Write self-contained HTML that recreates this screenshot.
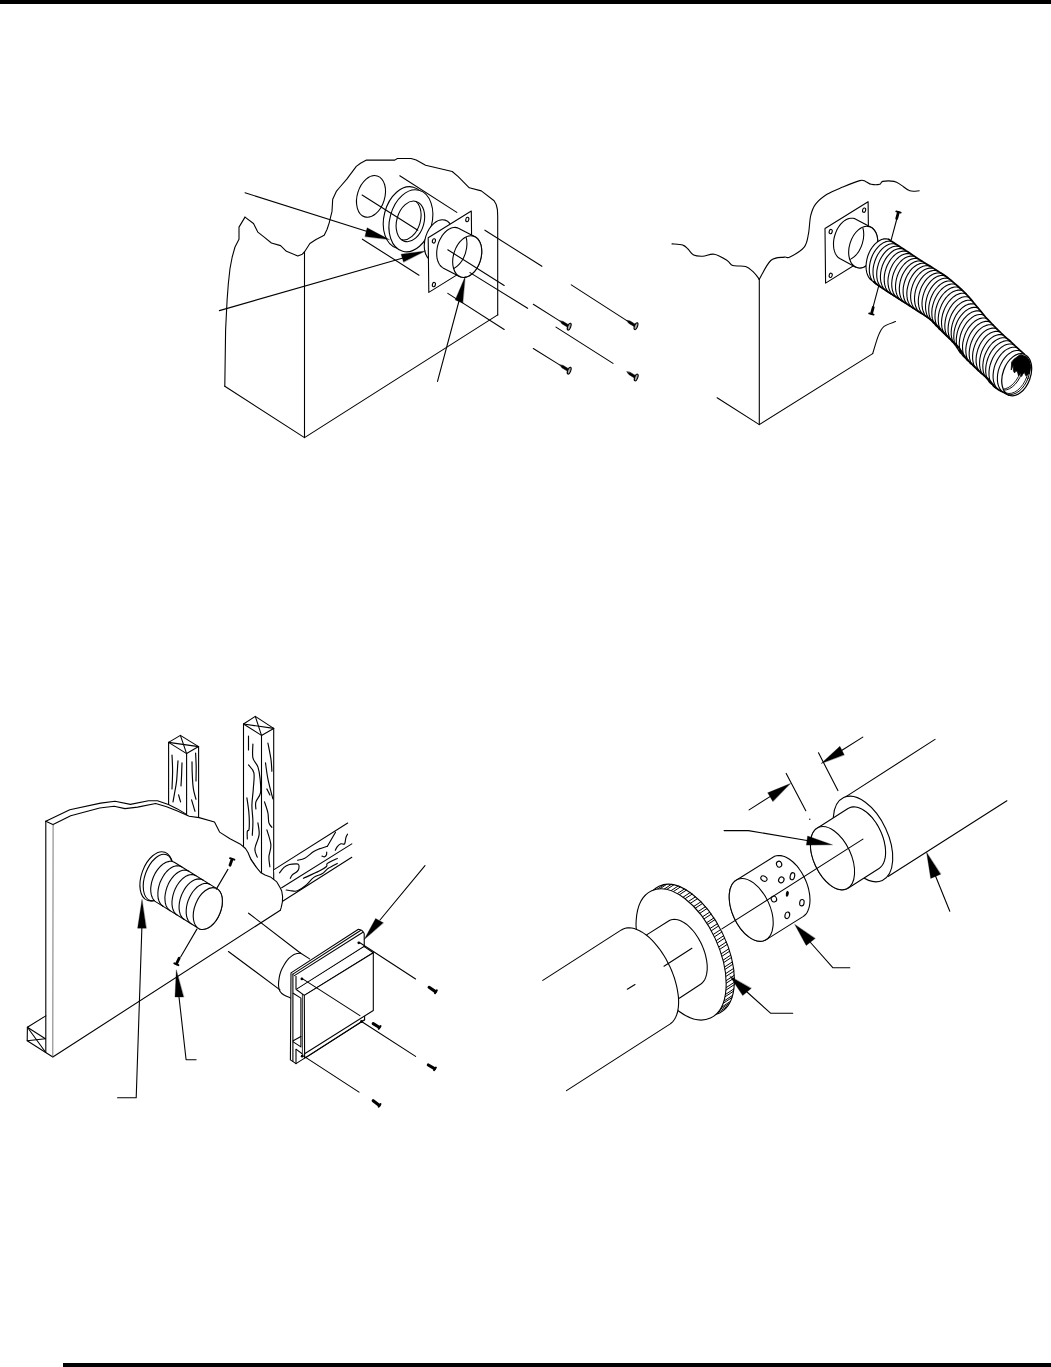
<!DOCTYPE html>
<html><head><meta charset="utf-8"><title>Page</title>
<style>
html,body{margin:0;padding:0;background:#fff;}
body{width:1051px;height:1367px;overflow:hidden;position:relative;font-family:"Liberation Sans",sans-serif;}
.top{position:absolute;left:0;top:0;width:1051px;height:4px;background:#000;}
.bot{position:absolute;left:63px;top:1363px;width:988px;height:4px;background:#000;}
svg{position:absolute;left:0;top:0;}
</style></head><body>
<div class="top"></div><div class="bot"></div>
<svg width="1051" height="1367" viewBox="0 0 1051 1367" fill="none" stroke="#000" stroke-width="1.1" stroke-linecap="round" stroke-linejoin="round">
<!-- diagram 1 -->
<g>
<path d="M224.8,386.2 L225.6,330 L227.1,300 L228.3,284 L230,268.5 L232.2,257 L235,247 L239,239.2 L239,227.1 L245,217.1" fill="none"/>
<path d="M245,217.1 L253.5,223.5 L257.8,232.1 L264.2,237.1 L271.4,243 L280.6,245.6 L286.4,251.3 L297.8,255.9 L302.3,254.2 L304.4,252" fill="none"/>
<path d="M304.4,252 L309.9,243.5 L316,239.5 L324.2,235.3 L327,229.5 L329.2,222.8 L332,211.4 L332.7,199.2 L336.3,191.4 L340,187 L346.8,179.2 L356.3,166.4 L360.5,163.2 L366.5,160.1 L394.8,160.1 L397.4,158.5 L411.1,158.5 L416.2,160.1 L425.6,165.2 L452.2,171.5 L458.2,176.7 L469.3,187.8 L481.3,190.9 L494.1,200.7 L496.2,204.5 L497.4,209.5 L497.7,216 L497.7,314.9" fill="none"/>
<path d="M224.8,386.2 L304.5,437.6 L497.7,314.9" fill="none"/>
<path d="M304.5,252 L304.5,437.6" fill="none"/>
<ellipse cx="371" cy="196.4" rx="13.7" ry="21.4" transform="rotate(17 371 196.4)" fill="none"/>
<path d="M399.8,175.8 L456.8,212.4" fill="none"/>
<path d="M362.4,239.2 L419,275.2" fill="none"/>
<ellipse cx="405.2" cy="217.7" rx="21.1" ry="31.6" transform="rotate(15 405.2 217.7)" fill="#fff"/>
<ellipse cx="410.9" cy="220.8" rx="21.1" ry="31.6" transform="rotate(15 410.9 220.8)" fill="#fff"/>
<clipPath id="c1"><ellipse cx="410.4" cy="221.4" rx="13.6" ry="20.8" transform="rotate(16 410.4 221.4)"/></clipPath>
<ellipse cx="410.4" cy="221.4" rx="13.6" ry="20.8" transform="rotate(16 410.4 221.4)" fill="#fff"/>
<g clip-path="url(#c1)"><ellipse cx="406.8" cy="219.6" rx="13.6" ry="20.8" transform="rotate(16 406.8 219.6)" fill="none"/></g>
<path d="M362.1,195 L417.8,230.2" fill="none"/>
<ellipse cx="438.8" cy="240.6" rx="13.7" ry="21.4" transform="rotate(17 438.8 240.6)" fill="#fff"/>
<path d="M428.2,237.8 L471.3,211 L471.9,265.6 L428.8,292.4 Z" fill="#fff"/>
<ellipse cx="467.3" cy="219.5" rx="1.5" ry="2.2" transform="rotate(15 467.3 219.5)" fill="none"/>
<ellipse cx="433.9" cy="240.9" rx="1.5" ry="2.2" transform="rotate(15 433.9 240.9)" fill="none"/>
<ellipse cx="433.9" cy="284.6" rx="1.5" ry="2.2" transform="rotate(15 433.9 284.6)" fill="none"/>
<path d="M458.9,228.4 L457.7,227.9 L456.4,227.6 L455,227.4 L453.7,227.5 L452.2,227.8 L450.8,228.3 L449.4,228.9 L448,229.8 L446.6,230.8 L445.3,232 L444,233.3 L442.8,234.8 L441.7,236.4 L440.7,238.2 L439.7,240 L438.9,241.9 L438.2,243.9 L437.6,245.9 L437.2,248 L436.9,250 L436.7,252 L436.7,254 L436.8,256 L437,257.8 L437.4,259.6 L437.9,261.3 L438.6,262.8 L439.3,264.2 L440.2,265.5 L441.2,266.5 L442.3,267.4 L443.5,268.2 L459.5,276.5 L460.7,277 L462,277.3 L463.4,277.5 L464.7,277.4 L466.2,277.1 L467.6,276.6 L469,276 L470.4,275.1 L471.8,274.1 L473.1,272.9 L474.4,271.6 L475.6,270.1 L476.7,268.5 L477.7,266.7 L478.7,264.9 L479.5,263 L480.2,261 L480.8,259 L481.2,256.9 L481.5,254.9 L481.7,252.9 L481.7,250.9 L481.6,248.9 L481.4,247.1 L481,245.3 L480.5,243.6 L479.8,242.1 L479.1,240.7 L478.2,239.4 L477.2,238.4 L476.1,237.5 L474.9,236.7 Z" fill="#fff"/>
<ellipse cx="467.2" cy="256.6" rx="13.7" ry="21.4" transform="rotate(17 467.2 256.6)" fill="#fff"/>
<clipPath id="cc1"><ellipse cx="467.2" cy="256.6" rx="13.7" ry="21.4" transform="rotate(17 467.2 256.6)"/></clipPath>
<g clip-path="url(#cc1)"><ellipse cx="452.4" cy="248.9" rx="13.7" ry="21.4" transform="rotate(17 452.4 248.9)" fill="none"/></g>
<path d="M447.8,249.8 L504.2,285.5" fill="none"/>
<path d="M484.9,230.2 L541.9,266.3" fill="none"/>
<path d="M470,272.6 L527.6,308.3" fill="none"/>
<path d="M447.8,293.4 L504.2,329.5" fill="none"/>
<path d="M533.3,304.3 L560,321.1" fill="none"/>
<path d="M571.3,284.9 L626.8,320.6" fill="none"/>
<path d="M556,327.1 L613,363.4" fill="none"/>
<path d="M533.3,348.5 L560,365.1" fill="none"/>
<path d="M560,321.1 L561.9,323.7 L567.4,327.1 L568.7,324.9 L563.2,321.6 Z" fill="#000" stroke="#000" stroke-width="0.6"/><ellipse cx="569.2" cy="326.7" rx="1.5" ry="3.6" transform="rotate(21.3 569.2 326.7)" fill="#aaa" stroke="#000" stroke-width="1.1"/>
<path d="M626.8,320.6 L628.7,323.2 L634.2,326.6 L635.5,324.4 L630,321.1 Z" fill="#000" stroke="#000" stroke-width="0.6"/><ellipse cx="636" cy="326.2" rx="1.5" ry="3.6" transform="rotate(21.3 636 326.2)" fill="#aaa" stroke="#000" stroke-width="1.1"/>
<path d="M560,365.1 L561.9,367.7 L567.4,371.1 L568.7,368.9 L563.2,365.6 Z" fill="#000" stroke="#000" stroke-width="0.6"/><ellipse cx="569.2" cy="370.7" rx="1.5" ry="3.6" transform="rotate(21.3 569.2 370.7)" fill="#aaa" stroke="#000" stroke-width="1.1"/>
<path d="M627,371.9 L628.9,374.5 L634.4,377.9 L635.7,375.7 L630.2,372.4 Z" fill="#000" stroke="#000" stroke-width="0.6"/><ellipse cx="636.2" cy="377.5" rx="1.5" ry="3.6" transform="rotate(21.3 636.2 377.5)" fill="#aaa" stroke="#000" stroke-width="1.1"/>
<path d="M245,192.8 L372,233" fill="none"/>
<path d="M389.3,239.6 L367.1,227.8 L365,236.4 Z" fill="#000" stroke="#000" stroke-width="0.3"/>
<path d="M219.4,310.6 L403,258" fill="none"/>
<path d="M425.3,250.9 L401.1,254.2 L403.5,262 Z" fill="#000" stroke="#000" stroke-width="0.3"/>
<path d="M437.5,381.4 L459,301" fill="none"/>
<path d="M465.2,276.5 L455.2,299.9 L462.7,303.1 Z" fill="#000" stroke="#000" stroke-width="0.3"/>
</g>
<!-- diagram 2 -->
<g>
<path d="M672,243.9 C673.8,244.1 680.1,244.2 682.8,245.1 C685.5,245.9 686.2,247.3 688,249 C689.8,250.7 691.2,253.9 693.7,255.1 C696.2,256.3 699.4,256.3 702.8,256.2 C706.2,256.1 710.2,253.5 714.2,254.2 C718.2,254.9 724,258.6 727.1,260.5 C730.2,262.4 729.7,264.6 732.8,265.6 C735.9,266.6 742,265.3 745.6,266.5 C749.2,267.7 751.9,270.7 754.2,272.8 C756.5,274.9 758.4,278.2 759.3,279.3" fill="none"/>
<path d="M759.3,279.3 C761.2,276.2 766.6,264.2 770.8,260.5 C774.9,256.8 781,257.7 784.2,257.1 C787.4,256.5 786.6,258.8 789.9,257.1 C793.2,255.4 801.1,250.9 804.2,247.1 C807.3,243.3 807.3,239.4 808.4,234.2 C809.5,229 809.5,220.7 810.7,215.7 C811.9,210.7 812.9,207.8 815.6,204.2 C818.3,200.6 822.5,197.2 827,194.3 C831.5,191.5 837.2,189.4 842.7,187.1 C848.2,184.8 856,181.5 859.8,180.6 C863.6,179.7 863.6,180.8 865.5,181.4 C867.4,182 868.8,183.8 871.2,184.3 C873.6,184.8 877.9,184.8 879.8,184.3 C881.7,183.8 880.3,181.9 882.7,181.4 C885.1,180.9 891,180.8 894.1,181.4 C897.2,182 898.6,183.5 901.2,185.1 C903.8,186.7 906.8,189.9 909.8,190.8 C912.8,191.8 917.6,190.8 919.2,190.8" fill="none"/>
<path d="M759.3,279.3 L759.3,424.6" fill="none"/>
<path d="M717.1,397.8 L759.3,424.6 L872.7,353.6" fill="none"/>
<path d="M872.7,353.6 C873.7,350.6 876.5,340.1 878.4,335.6 C880.3,331.1 881.2,328.7 884.1,326.4 C887,324.1 893.6,322.4 895.5,321.6" fill="none"/>
<path d="M825,228.5 L868.1,201.7 L868.7,256.3 L825.6,283.1 Z" fill="#fff"/>
<ellipse cx="864.1" cy="210.2" rx="1.5" ry="2.2" transform="rotate(15 864.1 210.2)" fill="none"/>
<ellipse cx="830.7" cy="231.6" rx="1.5" ry="2.2" transform="rotate(15 830.7 231.6)" fill="none"/>
<ellipse cx="830.7" cy="275.3" rx="1.5" ry="2.2" transform="rotate(15 830.7 275.3)" fill="none"/>
<path d="M855.8,219.2 L854.6,218.6 L853.3,218.3 L851.9,218.2 L850.6,218.2 L849.1,218.5 L847.7,218.9 L846.3,219.6 L844.9,220.4 L843.5,221.4 L842.2,222.6 L840.9,223.9 L839.7,225.4 L838.6,227 L837.5,228.7 L836.6,230.6 L835.8,232.5 L835.1,234.5 L834.5,236.5 L834,238.5 L833.7,240.6 L833.5,242.6 L833.5,244.6 L833.6,246.5 L833.8,248.4 L834.2,250.2 L834.7,251.9 L835.3,253.4 L836.1,254.8 L837,256.1 L837.9,257.2 L839,258.1 L840.2,258.8 L855.4,266.9 L856.6,267.5 L857.9,267.8 L859.3,267.9 L860.6,267.9 L862.1,267.6 L863.5,267.2 L864.9,266.5 L866.3,265.7 L867.7,264.7 L869,263.5 L870.3,262.2 L871.5,260.7 L872.6,259.1 L873.7,257.4 L874.6,255.5 L875.4,253.6 L876.1,251.6 L876.7,249.6 L877.2,247.6 L877.5,245.5 L877.7,243.5 L877.7,241.5 L877.6,239.6 L877.4,237.7 L877,235.9 L876.5,234.2 L875.9,232.7 L875.1,231.3 L874.2,230 L873.3,228.9 L872.2,228 L871,227.3 Z" fill="#fff"/>
<ellipse cx="863.2" cy="247.1" rx="13.7" ry="21.4" transform="rotate(17 863.2 247.1)" fill="#fff"/>
<clipPath id="cc2"><ellipse cx="863.2" cy="247.1" rx="13.7" ry="21.4" transform="rotate(17 863.2 247.1)"/></clipPath>
<g clip-path="url(#cc2)"><ellipse cx="849.2" cy="239.6" rx="13.7" ry="21.4" transform="rotate(17 849.2 239.6)" fill="none"/></g>
<path d="M898,214.5 L891.2,239.9" fill="none"/>
<path d="M898.3,212.6 L896.7,218.5" stroke-width="2.8"/><path d="M896.3,211.4 L900.7,212.6" stroke-width="1.9"/>
<path d="M879.2,284.2 L872.7,308.4" fill="none"/>
<path d="M871.6,313.4 L873.2,307.5" stroke-width="2.8"/><path d="M873.6,314.6 L869.2,313.4" stroke-width="1.9"/>
<path d="M888.5,239.3 L892.2,241.7 L896,244.1 L899.7,246.6 L903.5,249 L907.2,251.5 L911,254 L914.7,256.5 L918.5,259 L922.3,261.4 L926.1,263.7 L930,266.1 L933.8,268.5 L937.7,270.9 L941.5,273.4 L945.3,275.9 L948.9,278.6 L952.5,281.5 L955.9,284.5 L959.4,287.6 L962.8,290.6 L966,293.9 L969.1,297.3 L972.1,300.8 L975.1,304.3 L978,307.9 L981,311.5 L983.9,315.1 L987,318.6 L990.1,322 L993.4,325.3 L996.7,328.6 L1000,331.9 L1003.4,335.1 L1006.9,338.3 L1010.4,341.4 L1013.8,344.6 L1017.3,347.8 L1020.7,351 L1024.2,354.2 L1009.2,395.2 L1005,393.1 L1000.8,391 L996.8,388.6 L993.5,385.3 L990.6,381.6 L987.4,378.3 L983.9,375.2 L980.4,372.1 L977,368.9 L973.7,365.7 L970.4,362.5 L967.2,359.1 L964.1,355.7 L961.7,351.8 L959.1,348 L956,344.6 L952.8,341.3 L949.5,338.1 L946.2,334.9 L943,331.7 L939.8,328.5 L936.7,325.1 L933.5,321.9 L930,319 L926.3,316.4 L922.5,314 L918.6,311.6 L914.9,309.1 L911.1,306.7 L907.3,304.3 L903.5,301.9 L899.7,299.4 L896,297 L892.2,294.6 L888.5,292.2 L884.8,289.7 L881,287.3 L877.4,284.8 L874.1,281.8 Z" fill="#fff" stroke="none"/>
<ellipse cx="881.3" cy="260.6" rx="14.2" ry="22.4" transform="rotate(18.7 881.3 260.6)" fill="#fff" stroke="none"/>
<path d="M888.5,239.3 L886.3,238.8 L884,238.9 L881.6,239.5 L879.2,240.7 L876.9,242.3 L874.6,244.4 L872.6,246.8 L870.7,249.6 L869.1,252.7 L867.8,256 L866.9,259.4 L866.3,262.8 L866,266.1 L866.2,269.4 L866.7,272.4 L867.6,275.1 L868.8,277.4 L870.3,279.4 L872.1,280.8 L874.1,281.8 M892.2,241.7 L890,241.2 L887.7,241.3 L885.2,241.9 L882.8,243.1 L880.4,244.7 L878.2,246.8 L876.1,249.3 L874.2,252.1 L872.5,255.2 L871.2,258.5 L870.2,262 L869.6,265.4 L869.3,268.8 L869.4,272.1 L869.9,275.1 L870.8,277.9 L872,280.3 L873.5,282.2 L875.4,283.8 L877.4,284.8 M896,244.1 L893.8,243.7 L891.4,243.7 L889,244.3 L886.5,245.5 L884.1,247.1 L881.9,249.2 L879.7,251.7 L877.8,254.5 L876.2,257.7 L874.9,261 L873.9,264.4 L873.2,267.9 L873,271.3 L873.1,274.6 L873.6,277.6 L874.4,280.4 L875.7,282.8 L877.2,284.8 L879,286.3 L881,287.3 M899.7,246.6 L897.5,246.1 L895.2,246.2 L892.7,246.8 L890.3,247.9 L887.9,249.5 L885.6,251.6 L883.5,254.1 L881.6,257 L879.9,260.1 L878.6,263.4 L877.6,266.8 L876.9,270.3 L876.7,273.7 L876.8,277 L877.3,280.1 L878.2,282.8 L879.4,285.2 L880.9,287.2 L882.7,288.7 L884.8,289.7 M903.5,249 L901.3,248.5 L898.9,248.6 L896.5,249.2 L894,250.3 L891.6,252 L889.4,254.1 L887.2,256.6 L885.3,259.4 L883.7,262.5 L882.3,265.8 L881.3,269.3 L880.7,272.7 L880.4,276.1 L880.5,279.4 L881,282.5 L881.9,285.2 L883.1,287.6 L884.6,289.6 L886.4,291.1 L888.5,292.2 M907.2,251.5 L905,251 L902.7,251.1 L900.2,251.7 L897.8,252.8 L895.4,254.4 L893.1,256.5 L891,259 L889.1,261.9 L887.4,265 L886.1,268.3 L885.1,271.7 L884.4,275.2 L884.2,278.6 L884.3,281.9 L884.8,284.9 L885.6,287.7 L886.9,290.1 L888.4,292.1 L890.2,293.6 L892.2,294.6 M911,254 L908.7,253.5 L906.4,253.6 L904,254.2 L901.5,255.3 L899.1,256.9 L896.9,259 L894.7,261.5 L892.8,264.3 L891.2,267.4 L889.9,270.7 L888.9,274.2 L888.2,277.6 L887.9,281 L888.1,284.3 L888.6,287.3 L889.4,290.1 L890.6,292.5 L892.1,294.5 L893.9,296 L896,297 M914.7,256.5 L912.5,256 L910.1,256.1 L907.7,256.7 L905.3,257.8 L902.9,259.4 L900.6,261.5 L898.5,264 L896.6,266.8 L895,269.9 L893.6,273.2 L892.6,276.6 L892,280.1 L891.7,283.5 L891.8,286.7 L892.3,289.8 L893.2,292.5 L894.4,294.9 L895.9,296.9 L897.7,298.4 L899.7,299.4 M918.5,259 L916.2,258.5 L913.9,258.5 L911.5,259.1 L909.1,260.3 L906.7,261.9 L904.4,264 L902.3,266.5 L900.4,269.3 L898.7,272.4 L897.4,275.7 L896.4,279.1 L895.8,282.5 L895.5,285.9 L895.6,289.2 L896.1,292.2 L897,295 L898.2,297.4 L899.7,299.3 L901.5,300.8 L903.5,301.9 M922.3,261.4 L920.1,260.9 L917.7,261 L915.3,261.6 L912.9,262.7 L910.5,264.3 L908.2,266.4 L906.1,268.9 L904.2,271.7 L902.5,274.8 L901.2,278.1 L900.2,281.5 L899.6,284.9 L899.3,288.3 L899.4,291.6 L899.9,294.6 L900.7,297.4 L901.9,299.8 L903.5,301.8 L905.3,303.3 L907.3,304.3 M926.1,263.7 L923.9,263.3 L921.6,263.3 L919.1,263.9 L916.7,265 L914.3,266.7 L912,268.7 L909.9,271.2 L908,274.1 L906.3,277.2 L905,280.5 L904,283.9 L903.3,287.3 L903.1,290.7 L903.2,294 L903.7,297 L904.5,299.8 L905.7,302.2 L907.2,304.2 L909,305.7 L911.1,306.7 M930,266.1 L927.8,265.6 L925.4,265.7 L923,266.3 L920.5,267.4 L918.1,269 L915.8,271.1 L913.7,273.6 L911.8,276.4 L910.1,279.5 L908.8,282.8 L907.8,286.3 L907.1,289.7 L906.8,293.1 L907,296.4 L907.4,299.5 L908.3,302.2 L909.5,304.6 L911,306.6 L912.8,308.1 L914.9,309.1 M933.8,268.5 L931.6,268 L929.2,268.1 L926.8,268.7 L924.4,269.8 L922,271.4 L919.7,273.5 L917.5,276 L915.6,278.8 L914,281.9 L912.6,285.3 L911.6,288.7 L910.9,292.1 L910.6,295.6 L910.7,298.8 L911.2,301.9 L912.1,304.7 L913.3,307.1 L914.8,309.1 L916.6,310.6 L918.6,311.6 M937.7,270.9 L935.4,270.5 L933.1,270.5 L930.6,271.1 L928.2,272.2 L925.8,273.9 L923.5,275.9 L921.4,278.4 L919.5,281.2 L917.8,284.4 L916.4,287.7 L915.4,291.1 L914.8,294.5 L914.5,298 L914.6,301.2 L915.1,304.3 L915.9,307.1 L917.1,309.5 L918.6,311.4 L920.4,313 L922.5,314 M941.5,273.4 L939.3,272.9 L936.9,273 L934.5,273.6 L932,274.7 L929.6,276.3 L927.3,278.4 L925.2,280.9 L923.3,283.7 L921.6,286.8 L920.3,290.1 L919.3,293.5 L918.6,297 L918.3,300.4 L918.4,303.7 L918.9,306.7 L919.7,309.5 L920.9,311.9 L922.5,313.9 L924.3,315.4 L926.3,316.4 M945.3,275.9 L943,275.4 L940.7,275.5 L938.2,276.1 L935.8,277.2 L933.4,278.8 L931.1,280.9 L929,283.4 L927,286.2 L925.4,289.3 L924,292.6 L923,296.1 L922.3,299.5 L922,302.9 L922.1,306.2 L922.6,309.3 L923.5,312.1 L924.6,314.5 L926.2,316.5 L928,318 L930,319 M948.9,278.6 L946.7,278.1 L944.3,278.2 L941.9,278.8 L939.4,279.9 L937,281.5 L934.7,283.6 L932.5,286.1 L930.6,288.9 L928.9,292.1 L927.5,295.4 L926.5,298.8 L925.8,302.3 L925.5,305.7 L925.6,309 L926.1,312.1 L926.9,314.9 L928.1,317.3 L929.6,319.3 L931.4,320.9 L933.5,321.9 M952.5,281.5 L950.2,281 L947.8,281 L945.4,281.6 L942.9,282.8 L940.4,284.4 L938.1,286.5 L935.9,289 L933.9,291.8 L932.2,295 L930.8,298.3 L929.7,301.8 L929,305.3 L928.7,308.8 L928.8,312.1 L929.2,315.2 L930.1,318 L931.3,320.5 L932.8,322.5 L934.6,324.1 L936.7,325.1 M955.9,284.5 L953.6,284 L951.2,284 L948.7,284.6 L946.2,285.7 L943.7,287.4 L941.3,289.5 L939.1,292 L937.1,294.9 L935.4,298 L934,301.4 L932.9,304.9 L932.1,308.4 L931.8,311.9 L931.9,315.3 L932.3,318.4 L933.2,321.3 L934.4,323.8 L935.9,325.8 L937.7,327.4 L939.8,328.5 M959.4,287.6 L957.1,287 L954.6,287 L952.1,287.6 L949.6,288.7 L947.1,290.4 L944.7,292.5 L942.4,295 L940.4,297.9 L938.6,301.1 L937.2,304.5 L936.1,308 L935.3,311.5 L935,315.1 L935,318.4 L935.5,321.6 L936.3,324.5 L937.5,327 L939,329.1 L940.9,330.7 L943,331.7 M962.8,290.6 L960.5,290.1 L958,290.1 L955.5,290.7 L952.9,291.8 L950.4,293.4 L948,295.5 L945.7,298.1 L943.7,301 L941.9,304.2 L940.5,307.6 L939.3,311.1 L938.6,314.7 L938.2,318.2 L938.3,321.6 L938.7,324.8 L939.6,327.6 L940.7,330.2 L942.3,332.2 L944.1,333.9 L946.2,334.9 M966,293.9 L963.7,293.3 L961.3,293.3 L958.8,293.9 L956.2,295 L953.7,296.7 L951.3,298.8 L949,301.3 L947,304.2 L945.2,307.4 L943.8,310.8 L942.6,314.3 L941.9,317.9 L941.5,321.4 L941.6,324.8 L942,327.9 L942.9,330.8 L944,333.3 L945.6,335.4 L947.4,337 L949.5,338.1 M969.1,297.3 L966.8,296.7 L964.4,296.8 L961.9,297.3 L959.4,298.4 L956.9,300.1 L954.5,302.2 L952.2,304.7 L950.2,307.6 L948.5,310.7 L947,314.1 L945.9,317.6 L945.2,321.2 L944.8,324.7 L944.9,328.1 L945.3,331.2 L946.2,334.1 L947.4,336.6 L948.9,338.6 L950.7,340.2 L952.8,341.3 M972.1,300.8 L969.8,300.3 L967.4,300.3 L964.9,300.9 L962.4,302 L960,303.6 L957.6,305.7 L955.4,308.2 L953.4,311.1 L951.6,314.2 L950.2,317.6 L949.1,321.1 L948.4,324.6 L948.1,328.1 L948.1,331.4 L948.6,334.5 L949.4,337.4 L950.6,339.9 L952.1,341.9 L954,343.5 L956,344.6 M975.1,304.3 L972.8,303.8 L970.4,303.9 L967.9,304.4 L965.4,305.5 L963,307.2 L960.6,309.3 L958.4,311.8 L956.4,314.6 L954.7,317.8 L953.3,321.1 L952.2,324.6 L951.5,328.1 L951.2,331.6 L951.2,334.9 L951.7,338 L952.5,340.8 L953.7,343.3 L955.2,345.3 L957,346.9 L959.1,348 M978,307.9 L975.7,307.4 L973.3,307.4 L970.8,307.9 L968.3,309.1 L965.8,310.7 L963.4,312.8 L961.2,315.3 L959.2,318.1 L957.4,321.3 L956,324.7 L954.9,328.2 L954.1,331.7 L953.8,335.2 L953.8,338.5 L954.3,341.7 L955.1,344.5 L956.3,347 L957.8,349.1 L959.6,350.7 L961.7,351.8 M981,311.5 L978.7,310.9 L976.2,310.9 L973.7,311.5 L971.1,312.6 L968.6,314.2 L966.2,316.3 L963.9,318.8 L961.9,321.7 L960.1,324.8 L958.6,328.2 L957.4,331.8 L956.7,335.3 L956.3,338.8 L956.3,342.2 L956.7,345.4 L957.5,348.3 L958.7,350.8 L960.2,352.9 L962.1,354.6 L964.1,355.7 M983.9,315.1 L981.6,314.5 L979.2,314.5 L976.7,315 L974.1,316.1 L971.6,317.8 L969.2,319.8 L966.9,322.4 L964.9,325.2 L963.1,328.4 L961.6,331.8 L960.4,335.3 L959.7,338.9 L959.3,342.4 L959.3,345.8 L959.7,348.9 L960.6,351.8 L961.7,354.3 L963.3,356.4 L965.1,358 L967.2,359.1 M987,318.6 L984.7,318 L982.3,318 L979.7,318.6 L977.2,319.7 L974.7,321.3 L972.3,323.4 L970.1,325.9 L968,328.7 L966.2,331.9 L964.8,335.3 L963.7,338.8 L962.9,342.3 L962.5,345.8 L962.6,349.2 L963,352.3 L963.8,355.2 L965,357.7 L966.5,359.8 L968.3,361.4 L970.4,362.5 M990.1,322 L987.9,321.4 L985.4,321.4 L982.9,322 L980.4,323.1 L977.9,324.7 L975.5,326.8 L973.3,329.3 L971.3,332.1 L969.5,335.3 L968.1,338.6 L967,342.1 L966.2,345.6 L965.8,349.1 L965.9,352.5 L966.3,355.6 L967.1,358.5 L968.3,361 L969.8,363 L971.6,364.6 L973.7,365.7 M993.4,325.3 L991.1,324.8 L988.7,324.8 L986.2,325.4 L983.7,326.4 L981.2,328.1 L978.8,330.1 L976.6,332.6 L974.6,335.5 L972.9,338.6 L971.4,341.9 L970.3,345.4 L969.6,348.9 L969.2,352.4 L969.2,355.7 L969.7,358.9 L970.5,361.7 L971.7,364.2 L973.2,366.2 L975,367.8 L977,368.9 M996.7,328.6 L994.4,328.1 L992,328.1 L989.5,328.7 L987,329.8 L984.5,331.4 L982.2,333.4 L980,335.9 L978,338.8 L976.2,341.9 L974.8,345.2 L973.7,348.7 L972.9,352.2 L972.6,355.6 L972.6,359 L973.1,362.1 L973.9,364.9 L975.1,367.4 L976.6,369.4 L978.4,371 L980.4,372.1 M1000,331.9 L997.7,331.4 L995.4,331.4 L992.9,332 L990.4,333 L987.9,334.6 L985.6,336.7 L983.4,339.2 L981.4,342 L979.7,345.1 L978.2,348.4 L977.2,351.9 L976.4,355.4 L976.1,358.8 L976.1,362.1 L976.6,365.2 L977.4,368 L978.6,370.5 L980.1,372.5 L981.9,374.1 L983.9,375.2 M1003.4,335.1 L1001.2,334.6 L998.8,334.6 L996.3,335.2 L993.8,336.3 L991.4,337.9 L989,339.9 L986.9,342.4 L984.9,345.2 L983.2,348.3 L981.7,351.6 L980.6,355.1 L979.9,358.5 L979.6,362 L979.6,365.3 L980.1,368.4 L980.9,371.2 L982.1,373.6 L983.6,375.6 L985.3,377.2 L987.4,378.3 M1006.9,338.3 L1004.6,337.7 L1002.2,337.7 L999.8,338.3 L997.3,339.4 L994.8,341 L992.4,343 L990.2,345.5 L988.2,348.4 L986.5,351.5 L985,354.8 L983.9,358.2 L983.2,361.7 L982.8,365.2 L982.9,368.5 L983.3,371.6 L984.1,374.4 L985.3,376.9 L986.8,378.9 L988.6,380.5 L990.6,381.6 M1010.4,341.4 L1008.1,340.8 L1005.7,340.8 L1003.1,341.4 L1000.6,342.5 L998.1,344.1 L995.6,346.1 L993.4,348.6 L991.3,351.5 L989.5,354.6 L988,358 L986.9,361.5 L986.1,365 L985.7,368.6 L985.7,371.9 L986.1,375.1 L986.9,378 L988.1,380.5 L989.6,382.6 L991.4,384.2 L993.5,385.3 M1013.8,344.6 L1011.5,344 L1009.1,344 L1006.6,344.5 L1004,345.6 L1001.5,347.2 L999.1,349.3 L996.8,351.8 L994.7,354.7 L992.9,357.8 L991.4,361.2 L990.2,364.7 L989.4,368.2 L989,371.8 L989,375.1 L989.4,378.3 L990.2,381.2 L991.4,383.7 L992.9,385.8 L994.7,387.5 L996.8,388.6 M1017.3,347.8 L1015,347.2 L1012.6,347.2 L1010.2,347.8 L1007.7,348.9 L1005.2,350.4 L1002.8,352.5 L1000.6,354.9 L998.6,357.8 L996.8,360.9 L995.3,364.2 L994.2,367.6 L993.5,371.1 L993.1,374.6 L993.1,377.9 L993.5,381 L994.3,383.8 L995.5,386.3 L997,388.4 L998.7,389.9 L1000.8,391 M1020.7,351 L1018.5,350.5 L1016.2,350.5 L1013.8,351 L1011.4,352.1 L1009,353.7 L1006.7,355.7 L1004.5,358.1 L1002.6,360.8 L1000.9,363.9 L999.5,367.1 L998.4,370.4 L997.7,373.8 L997.4,377.2 L997.4,380.4 L997.8,383.5 L998.6,386.2 L999.8,388.6 L1001.2,390.6 L1003,392.1 L1005,393.1 " fill="none" stroke-width="1.1"/>
<path d="M888.5,239.3 L891,240.9 L893.5,242.5 L896,244.2 L898.5,245.8 L901,247.4 L903.5,249 L906,250.7 L908.5,252.3 L911,254 L913.5,255.6 L915.9,257.3 L918.4,258.9 L920.9,260.5 L923.5,262.1 L926,263.7 L928.6,265.2 L931.1,266.8 L933.6,268.4 L936.1,270 L938.7,271.6 L941.2,273.2 L943.7,274.8 L946.1,276.5 L948.5,278.3 L950.9,280.2 L953.1,282.1 L955.4,284.1 L957.6,286 L959.8,288 L962.1,290 L964.2,292.1 L966.3,294.2 L968.3,296.4 L970.3,298.6 L972.2,300.9 L974.1,303.2 L976,305.5 L977.9,307.8 L979.8,310.1 L981.7,312.4 L983.6,314.7 L985.5,317 L987.5,319.2 L989.6,321.4 L991.6,323.5 L993.7,325.7 L995.8,327.8 L997.9,329.9 L1000.1,332 L1002.2,334 L1004.4,336.1 L1006.6,338.1 L1008.9,340 L1011.1,342 L1013.3,344.1 L1015.4,346.1 L1017.6,348.1 L1019.8,350.2 L1022,352.2 L1024.2,354.2" fill="none" stroke-width="1.7"/>
<path d="M874.1,281.8 L876.2,283.8 L878.6,285.6 L881.1,287.3 L883.5,288.9 L886,290.6 L888.5,292.2 L891,293.8 L893.5,295.4 L896,297 L898.5,298.6 L901,300.2 L903.5,301.8 L906,303.4 L908.5,305 L911,306.6 L913.5,308.2 L916,309.9 L918.4,311.5 L921,313 L923.5,314.6 L926,316.2 L928.4,317.9 L930.8,319.6 L933.1,321.6 L935.2,323.6 L937.3,325.8 L939.3,327.9 L941.3,330.1 L943.4,332.2 L945.5,334.3 L947.7,336.3 L949.8,338.4 L951.9,340.5 L954,342.6 L956.1,344.7 L958.2,346.8 L960,349.1 L961.6,351.6 L963.1,354.2 L964.9,356.6 L966.8,358.8 L968.9,361 L971,363.1 L973.1,365.1 L975.2,367.2 L977.4,369.2 L979.5,371.3 L981.7,373.3 L984,375.2 L986.2,377.2 L988.4,379.2 L990.4,381.4 L992.3,383.7 L994.1,386 L996.2,388.1 L998.6,389.8 L1001.2,391.3 L1003.9,392.6 L1006.5,393.9 L1009.2,395.2" fill="none" stroke-width="1.7"/>
<ellipse cx="1016.7" cy="374.7" rx="13.8" ry="21.8" transform="rotate(20.1 1016.7 374.7)" fill="#fff" stroke-width="1.25"/>
<clipPath id="hend"><ellipse cx="1016.7" cy="374.7" rx="13.3" ry="21.3" transform="rotate(20.1 1016.7 374.7)"/></clipPath>
<g clip-path="url(#hend)"><ellipse cx="1015.1" cy="373.5" rx="13.8" ry="21.8" transform="rotate(20.1 1015.1 373.5)" fill="none" stroke-width="0.9"/><ellipse cx="1013.7" cy="372.5" rx="13.8" ry="21.8" transform="rotate(20.1 1013.7 372.5)" fill="none" stroke-width="0.8"/><ellipse cx="1008.5" cy="369.1" rx="13.8" ry="21.8" transform="rotate(20.1 1008.5 369.1)" fill="none" stroke-width="0.9"/><ellipse cx="1007.1" cy="368.1" rx="13.8" ry="21.8" transform="rotate(20.1 1007.1 368.1)" fill="none" stroke-width="0.8"/><path d="M1013.9,359.3 L1019.6,355 L1025.3,356 L1029.6,360.7 L1030.8,366.4 L1029.3,373.6 L1025.8,375.8 L1024.4,372.5 L1022.9,373.9 L1021.6,376.5 L1020.3,372.8 L1018.6,376 L1017.5,372 L1015.8,370.7 L1014.6,373 L1013.4,370.7 L1013.2,365 L1011.2,370 L1011.6,362.5 Z" fill="#000" stroke-width="0.8"/></g>
</g>
<!-- diagram 3 -->
<g>
<path d="M168.6,808 L168.6,742.4 L180.4,735.4 L198.6,746.6 L198.6,819 L186.6,816 Z" fill="#fff"/>
<path d="M168.6,742.4 L186.6,753.6 L198.6,746.6" fill="none"/>
<path d="M186.6,753.6 L186.6,816" fill="none"/>
<path d="M168.6,742.4 L198.6,746.6" fill="none"/>
<path d="M180.4,735.4 L186.6,753.6" fill="none"/>
<path d="M243.5,848 L243.5,724 L255.3,716.4 L273.7,728.4 L273.7,880 L261.5,875 Z" fill="#fff"/>
<path d="M243.5,724 L261.5,735.4 L273.7,728.4" fill="none"/>
<path d="M261.5,735.4 L261.5,875" fill="none"/>
<path d="M243.5,724 L273.7,728.4" fill="none"/>
<path d="M255.3,716.4 L261.5,735.4" fill="none"/>
<path d="M172,755 C172.1,757.6 172.6,765.3 172.6,770.9 C172.6,776.6 172.1,785.9 172,788.9" fill="none" stroke-width="1.15"/>
<path d="M178,760.9 C177.7,764.3 177.1,775.6 176.6,780.9 C176,786.3 175.2,789.4 174.6,792.9 C174,796.4 173.2,800.4 173,801.9" fill="none" stroke-width="1.15"/>
<path d="M182,762.9 C181.9,764.9 181.7,771.1 181.6,774.9 C181.4,778.8 181.1,784.1 181,785.9" fill="none" stroke-width="1.15"/>
<path d="M178.6,794.9 C178.9,796.1 180.2,800.7 180.6,801.9" fill="none" stroke-width="1.15"/>
<path d="M192,761.9 C192,764.4 192.1,772.4 192.4,776.9 C192.6,781.4 192.8,785.2 193.4,788.9 C194,792.6 195.5,797.6 196,799.3" fill="none" stroke-width="1.15"/>
<path d="M195.6,753 C195.7,755.3 196.1,762.3 196.2,766.9 C196.2,771.6 196,778.6 196,780.9" fill="none" stroke-width="1.15"/>
<path d="M191.6,799.9 C191.9,800.9 192.8,804 193.4,805.9 C193.9,807.8 194.7,810.4 195,811.3" fill="none" stroke-width="1.15"/>
<path d="M248.5,736 C248.5,738.3 248.5,747.6 248.5,750" fill="none" stroke-width="1.15"/>
<path d="M252.9,744 C252.9,746.3 252.1,754.1 252.9,757.9 C253.7,761.8 256.7,763.4 257.9,766.9 C259.1,770.4 259.7,774.6 260.1,778.9 C260.5,783.3 261.2,789.1 260.5,792.9 C259.8,796.7 256.7,799.2 255.9,801.9 C255.1,804.6 255.9,807.7 255.9,808.9" fill="none" stroke-width="1.15"/>
<path d="M248.5,764.9 C249.4,766.3 253.1,768.9 253.9,772.9 C254.7,776.9 253.6,783.6 253.3,788.9 C253,794.2 252,799.6 251.9,804.9 C251.8,810.2 252.8,815.8 252.9,820.9 C253,825.9 252.4,832.9 252.3,835.3" fill="none" stroke-width="1.15"/>
<path d="M246.9,797.9 C247.2,800.4 248.5,807.7 248.9,812.9 C249.3,818.1 249.4,825.8 249.1,828.9 C248.8,831.9 247.6,829.6 247.3,831.3 C247,832.9 247.3,837.6 247.3,838.9" fill="none" stroke-width="1.15"/>
<path d="M257.9,822.9 C258.1,824.9 259.6,830.5 259.1,834.9 C258.6,839.2 255.2,845.1 254.9,848.9 C254.6,852.6 256.9,855.8 257.3,857.2" fill="none" stroke-width="1.15"/>
<path d="M267.9,743 C268.4,745.6 270.2,754.2 270.9,758.9 C271.6,763.7 271.7,769.3 271.9,771.3" fill="none" stroke-width="1.15"/>
<path d="M265.5,762.9 C265.9,765.6 266.7,772.9 267.9,778.9 C269.1,784.9 272,795.6 272.9,798.9" fill="none" stroke-width="1.15"/>
<path d="M266.9,788.9 C267.4,789.9 269.4,793.9 269.9,794.9" fill="none" stroke-width="1.15"/>
<path d="M264.5,801.9 C265.1,803.7 267.2,809.4 267.9,812.9 C268.6,816.4 268.2,820.5 268.9,822.9 C269.6,825.3 271.4,826.5 271.9,827.3" fill="none" stroke-width="1.15"/>
<path d="M266.9,829.9 C267.6,832.4 270.6,840.4 270.9,844.9 C271.2,849.4 269.1,853.2 268.9,856.8 C268.7,860.5 269.7,865.2 269.9,866.8" fill="none" stroke-width="1.15"/>
<path d="M273.7,869.2 L347.8,822.9 L351.8,843.3 L351.8,857.2 L282.9,899.8 Z" fill="#fff" stroke="none"/>
<path d="M273.6,869.9 L347.7,823" fill="none"/>
<path d="M281.7,887.8 L351.8,843.9" fill="none"/>
<path d="M282.6,901.3 L351.8,857.3" fill="none"/>
<path d="M279.5,872.9 C280.2,872 282.4,868.8 284,867.4 C285.6,866 287.4,865.1 289.4,864.5 C291.4,863.9 294.7,863.8 296.2,863.8 C297.7,863.8 298.2,863.8 298.6,864.5 C299.1,865.2 299.1,867.1 298.9,868.3 C298.6,869.5 298.2,870.4 297.1,871.5 C296,872.6 293.2,874 292.1,875.1 C291,876.2 290.6,877.8 290.3,878.3" fill="none" stroke-width="1.15"/>
<path d="M297.5,860.2 C298.7,859.9 302.2,859.6 304.8,858.2 C307.4,856.9 310.5,853.7 312.9,852.1 C315.3,850.5 316.8,849.9 319.2,848.9 C321.6,847.9 326,846.7 327.4,846.2" fill="none" stroke-width="1.15"/>
<path d="M327.4,846.2 L335.5,832.2" fill="none" stroke-width="1.15"/>
<path d="M322,856.1 C322.4,856.2 323.9,857 324.7,856.8 C325.4,856.6 326.2,855.6 326.5,854.8 C326.8,854 326.7,852.5 326.7,852.1" fill="none" stroke-width="1.15"/>
<path d="M335.3,850.3 C335.6,849.7 336.4,847.7 337.3,846.6 C338.2,845.5 339.7,844.3 340.9,843.8 C342.1,843.3 343.8,844.8 344.6,843.8 C345.4,842.8 345.4,839.2 345.9,837.6 C346.4,836 347.2,834.8 347.5,834.2" fill="none" stroke-width="1.15"/>
<path d="M303.4,878.3 C306,877.1 315.3,873.1 319.2,871.1 C323.1,869.1 325.1,867.8 326.5,866.5 C327.9,865.2 325.6,864.8 327.4,863.4 C329.2,862 335.6,859.2 337.3,858.4" fill="none" stroke-width="1.15"/>
<path d="M286.2,890 C287.2,890.1 290.2,890.8 292.1,890.9 C294,891 295.2,891.7 297.5,890.8 C299.8,889.9 303,887.7 305.7,885.5 C308.4,883.3 311.1,879.4 313.8,877.4 C316.5,875.4 319.6,875.3 322,873.8 C324.4,872.3 325.8,870 328.3,868.3 C330.9,866.6 335.8,864.2 337.3,863.4" fill="none" stroke-width="1.15"/>
<path d="M45.8,821.2 L69.8,809.8 L100.6,803.1 L115,801.3 L130.4,804.4 L148.5,800.8 L157.5,800.8 L168.4,804.4 L177.4,808.9 L186.5,814.4 L186,830 L45.8,1040 Z" fill="#fff" stroke="none"/>
<path d="M45.8,821.2 L69.8,809.8 L100.6,803.1 L115,801.3 L130.4,804.4 L148.5,800.8 L157.5,800.8 L168.4,804.4 L177.4,808.9 L186.5,814.4" fill="none"/>
<path d="M53.1,824.4 L70.7,815.8 L99.7,808 L114.1,806.2 L125,808.6 L137.6,807.1 L155.7,803.5 L166.6,806.8 L177.4,811.1 L189.2,816.2 L199.1,817.6 L214.5,822 L219.6,832.1 L230,838.8 L240,843.9 L245.5,848.5 L248,852.5 L251,859.8 L256,867 L261,872.8 L265,875.1 L270.4,876.9 L276.8,881.9 L279.9,887.3 L281.7,891 L282.6,896.4 L282.4,901.8 L281.3,907.2 L280.3,910.3 L52.8,1057 L53.1,824.4 Z" fill="#fff" stroke="none"/>
<path d="M53.1,824.4 L70.7,815.8 L99.7,808 L114.1,806.2 L125,808.6 L137.6,807.1 L155.7,803.5 L166.6,806.8 L177.4,811.1 L189.2,816.2 L199.1,817.6 L214.5,822 L219.6,832.1 L230,838.8 L240,843.9 L245.5,848.5 L248,852.5 L251,859.8 L256,867 L261,872.8 L265,875.1 L270.4,876.9 L276.8,881.9 L279.9,887.3 L281.7,891 L282.6,896.4 L282.4,901.8 L281.3,907.2 L280.3,910.3" fill="none"/>
<path d="M45.8,1015.9 L27.4,1027.3 L27.2,1040.8 L52.8,1057 L280.3,910.3" fill="none"/>
<path d="M45.8,821.3 L45.8,1052.4" fill="none"/>
<path d="M45.8,821.3 L53.4,824.7" fill="none"/>
<path d="M53.1,824.7 L52.8,1057" fill="none" stroke="#555" stroke-width="0.8"/>
<path d="M27.4,1027.3 L45.4,1038.7" fill="none"/>
<path d="M27.2,1040.8 L45.4,1038.7" fill="none"/>
<path d="M27.4,1027.3 L45.4,1052" fill="none"/>
<path d="M248.6,913.2 L300,952.8" fill="none"/>
<path d="M228.4,951.5 L280,989.9" fill="none"/>
<path d="M300,952.8 L309.6,958.9" fill="none"/>
<path d="M300.5,953.2 C299.8,953.3 297.4,953.3 296,953.8 C294.6,954.2 293.3,954.9 291.9,955.9 C290.5,956.9 288.8,958.2 287.5,959.8 C286.2,961.3 285,963.3 283.9,965.2 C282.8,967.1 281.8,969 281,971 C280.2,973 279.7,974.8 279.3,977.2 C278.9,979.6 278.4,982.9 278.5,985.2 C278.6,987.5 279,989.6 279.9,991.2 C280.8,992.8 282.2,993.9 284,995 C285.8,996.1 289.5,997.4 290.6,997.9" fill="none"/>
<path d="M291,972.9 L358.4,929.2 Q362.5,929.5 364.2,933.6 L364.6,1019.7 L296,1063.6 L290.4,1059.9 Z" fill="#fff"/>
<path d="M292.9,974.1 L360.5,930.5" fill="none"/>
<path d="M294.4,975.6 L362.5,932.5" fill="none"/>
<path d="M292.9,974.1 L292.9,1061.2" fill="none"/>
<path d="M296,976.5 L296,989.2" fill="none"/>
<path d="M296,1049.4 L296,1063.6" fill="none"/>
<path d="M296.6,989.2 L364,946.5" fill="none"/>
<path d="M296.6,989.8 L304.3,995.4 L373.3,952.7 L364.6,946.9 Z" fill="#fff" stroke="none"/>
<path d="M296.6,989.8 L304.3,995.4 L373.3,952.7 L364.6,946.9" fill="none"/>
<path d="M304.3,995.4 L373.3,952.7 L373.3,1010.5 L304.6,1053.7 Z" fill="#fff"/>
<path d="M302.4,994.2 L302.4,1052.5" fill="none" stroke-width="0.8"/>
<path d="M293.2,993.3 L300.9,998.1 L300.9,1046.9 L293.2,1041.9" fill="none"/>
<path d="M293.2,1040.7 L300.9,1036.4" fill="none"/>
<path d="M296.3,1049.4 L302.8,1054.3" fill="none"/>
<path d="M305.9,1057.6 L364.6,1019.9" fill="none"/>
<path d="M304.6,1053.7 L304.6,1058" fill="none"/>
<circle cx="301.9" cy="978.9" r="1.4" fill="#000" stroke="none"/>
<circle cx="358.8" cy="942.8" r="1.4" fill="#000" stroke="none"/>
<circle cx="302.2" cy="1056.2" r="1.4" fill="#000" stroke="none"/>
<circle cx="361.5" cy="1021.5" r="1.4" fill="#000" stroke="none"/>
<path d="M359.9,942.8 L415.6,979" fill="none"/>
<path d="M361.9,1021.8 L415.6,1056.4" fill="none"/>
<path d="M301.9,978.4 L359.9,1015.6" fill="none"/>
<path d="M303.7,1056.1 L359,1092.1" fill="none"/>
<path d="M429.1,987.3 L435.4,991.6" fill="none" stroke-width="3.1"/>
<path d="M435.0,993.1 L436.8,990.4000000000001" fill="none" stroke-width="2.0"/>
<path d="M428.3,1065.0 L434.5,1068.7" fill="none" stroke-width="3.1"/>
<path d="M434.1,1070.2 L435.90000000000003,1067.5" fill="none" stroke-width="2.0"/>
<path d="M373.2,1100.7 L379.09999999999997,1105.2" fill="none" stroke-width="3.1"/>
<path d="M378.7,1106.7 L380.5,1104.0" fill="none" stroke-width="2.0"/>
<path d="M373.2,1023.6 L379.09999999999997,1027.3000000000002" fill="none" stroke-width="3.1"/>
<path d="M378.7,1028.8000000000002 L380.5,1026.1000000000001" fill="none" stroke-width="2.0"/>
<path d="M425,865.7 L380,920" fill="none"/>
<path d="M364.2,939.4 L375.6,918.5 L383.3,922.8 Z" fill="#000" stroke="#000" stroke-width="0.3"/>
<ellipse cx="156.1" cy="876.3" rx="14.5" ry="25.6" transform="rotate(20 156.1 876.3)" fill="#fff"/>
<ellipse cx="158.3" cy="877.6" rx="13.4" ry="24.3" transform="rotate(20 158.3 877.6)" fill="none"/>
<path d="M174.7,862.5 L173.6,861.9 L172.4,861.5 L171.1,861.3 L169.7,861.3 L168.4,861.6 L166.9,862 L165.5,862.6 L164.1,863.4 L162.7,864.3 L161.3,865.5 L159.9,866.8 L158.6,868.3 L157.4,869.9 L156.2,871.6 L155.1,873.4 L154.2,875.3 L153.3,877.2 L152.6,879.2 L151.9,881.3 L151.4,883.3 L151.1,885.4 L150.8,887.4 L150.7,889.3 L150.8,891.2 L151,893 L151.3,894.7 L151.8,896.3 L152.4,897.7 L153.1,899 L153.9,900.2 L154.9,901.1 L155.9,901.9 L198.4,928.3 L199.5,928.9 L200.8,929.3 L202,929.5 L203.4,929.5 L204.8,929.2 L206.2,928.8 L207.6,928.2 L209,927.4 L210.5,926.5 L211.8,925.3 L213.2,924 L214.5,922.5 L215.7,920.9 L216.9,919.2 L218,917.4 L218.9,915.5 L219.8,913.6 L220.6,911.6 L221.2,909.5 L221.7,907.5 L222.1,905.4 L222.3,903.4 L222.4,901.5 L222.3,899.6 L222.1,897.8 L221.8,896.1 L221.3,894.5 L220.7,893.1 L220,891.8 L219.2,890.6 L218.2,889.7 L217.2,888.9 Z" fill="#fff"/>
<ellipse cx="207.8" cy="908.6" rx="13" ry="21.9" transform="rotate(22 207.8 908.6)" fill="#fff"/>
<path d="M210.1,884.5 L208.3,883.7 L206.2,883.3 L204,883.5 L201.8,884.2 L199.5,885.4 L197.2,887 L195.1,889.1 L193,891.5 L191.2,894.3 L189.6,897.3 L188.2,900.4 L187.2,903.7 L186.5,907 L186.2,910.2 L186.2,913.2 L186.6,916.1 L187.3,918.6 L188.3,920.8 L189.7,922.6 L191.3,923.9 M203,880.1 L201.2,879.3 L199.1,878.9 L197,879.1 L194.7,879.8 L192.4,881 L190.1,882.6 L188,884.7 L185.9,887.1 L184.1,889.9 L182.5,892.9 L181.2,896 L180.1,899.3 L179.4,902.6 L179.1,905.8 L179.1,908.8 L179.5,911.7 L180.2,914.2 L181.3,916.4 L182.6,918.2 L184.2,919.5 M196,875.7 L194.1,874.9 L192.1,874.5 L189.9,874.7 L187.6,875.4 L185.3,876.6 L183.1,878.2 L180.9,880.3 L178.9,882.7 L177,885.5 L175.4,888.5 L174.1,891.6 L173.1,894.9 L172.4,898.2 L172,901.4 L172,904.4 L172.4,907.3 L173.1,909.8 L174.2,912 L175.5,913.8 L177.2,915.1 M188.9,871.3 L187,870.5 L185,870.1 L182.8,870.3 L180.5,871 L178.2,872.2 L176,873.8 L173.8,875.9 L171.8,878.3 L169.9,881.1 L168.3,884.1 L167,887.2 L166,890.5 L165.3,893.8 L164.9,897 L165,900 L165.3,902.9 L166,905.4 L167.1,907.6 L168.5,909.4 L170.1,910.7 M181.8,866.9 L179.9,866.1 L177.9,865.7 L175.7,865.9 L173.5,866.6 L171.2,867.8 L168.9,869.4 L166.7,871.5 L164.7,873.9 L162.9,876.7 L161.3,879.7 L159.9,882.8 L158.9,886.1 L158.2,889.4 L157.9,892.6 L157.9,895.6 L158.2,898.5 L159,901 L160,903.2 L161.4,905 L163,906.3 " fill="none"/>
<path d="M216.3,889.1 L227.9,869.4" fill="none"/>
<path d="M232,859.5 L230,865.3" stroke-width="2.8"/><path d="M230,858.2 L234.4,859.7" stroke-width="1.9"/>
<path d="M196.9,929.1 L180.6,957" fill="none"/>
<path d="M176.6,963.7 L179.2,958.2" stroke-width="2.8"/><path d="M178.4,965.2 L174.3,963.3" stroke-width="1.9"/>
<path d="M141.9,927 L136.2,1097.8 L117.6,1097.8" fill="none"/>
<path d="M142,899.6 L137.6,928.2 L146.2,928.2 Z" fill="#000" stroke="#000" stroke-width="0.3"/>
<path d="M179,997 L186.1,1059.8 L196.1,1059.8" fill="none"/>
<path d="M176.3,970.1 L175,997 L183.6,997 Z" fill="#000" stroke="#000" stroke-width="0.3"/>
</g>
<!-- diagram 4 -->
<g>
<ellipse cx="689.3" cy="949.6" rx="37" ry="70.2" transform="rotate(-25.6 689.3 949.6)" fill="#fff"/>
<path d="M657.3,889.1 L664,884.7 M659.9,888.8 L666.7,884.3 M664.2,889.1 L671.1,884.5 M666.7,889.5 L673.7,884.9 M671,890.7 L678,886.1 M673.3,891.6 L680.3,887 M677.3,893.6 L684.4,889 M679.3,894.8 L686.4,890.1 M683.1,897.2 L690.1,892.6 M685.1,898.7 L692.2,894.1 M688.4,901.5 L695.5,896.8 M690.4,903.3 L697.6,898.6 M693.7,906.5 L700.9,901.8 M695.3,908.2 L702.5,903.5 M698.2,911.5 L705.4,906.7 M699.7,913.4 L706.9,908.6 M702.4,916.9 L709.7,912.1 M703.9,919 L711.2,914.2 M706.5,922.8 L713.8,918 M707.6,924.5 L714.9,919.7 M710,928.5 L717.4,923.7 M711.3,930.8 L718.7,925.9 M713.2,934.5 L720.7,929.6 M714.4,936.9 L721.9,931.9 M716.1,940.7 L723.7,935.7 M717.2,943.1 L724.7,938.1 M718.7,947 L726.3,942 M719.6,949.4 L727.3,944.4 M721.1,953.9 L728.8,948.8 M721.9,956.3 L729.6,951.2 M722.9,960.3 L730.7,955.1 M723.5,962.7 L731.4,957.5 M724.4,967.1 L732.4,961.9 M724.9,969.5 L732.8,964.2 M725.5,973.7 L733.5,968.5 M725.8,976.5 L733.9,971.2 M726.1,980.7 L734.2,975.3 M726.1,983.3 L734.4,977.9 M726,987.7 L734.4,982.2 M725.9,990.2 L734.3,984.6 M725.3,994.6 L733.8,988.9 M724.9,996.9 L733.5,991.2 M723.7,1001.2 L732.6,995.4 M722.9,1003.5 L731.9,997.6 M721.1,1007.5 L730.4,1001.4 M719.8,1009.7 L729.3,1003.5 M717.1,1013.1 L727.5,1006.3 " fill="none" stroke-width="1"/>
<ellipse cx="681.1" cy="954.4" rx="37.6" ry="70.1" transform="rotate(-24.8 681.1 954.4)" fill="#fff"/>
<path d="M646.6,934.9 L668.6,921 L669.9,920.3 L671.3,919.8 L672.8,919.5 L674.3,919.4 L675.9,919.5 L677.6,919.8 L679.3,920.3 L681.1,921 L682.8,921.9 L684.6,923 L686.4,924.2 L688.1,925.7 L689.9,927.3 L691.6,929.1 L693.3,931 L694.9,933 L696.4,935.2 L697.9,937.5 L699.3,939.9 L700.6,942.3 L701.8,944.8 L702.9,947.4 L703.9,950 L704.8,952.6 L705.5,955.2 L706.1,957.8 L706.6,960.3 L706.9,962.8 L707.2,965.3 L707.2,967.7 L707.2,969.9 L706.9,972.1 L706.6,974.2 L706.1,976.1 L705.5,977.9 L704.8,979.5 L703.9,980.9 L702.9,982.2 L701.8,983.3 L700.6,984.2 L679.3,998.2 Z" fill="#fff" stroke="none"/>
<path d="M646.6,934.9 L668.6,921 L669.9,920.3 L671.3,919.8 L672.8,919.5 L674.3,919.4 L675.9,919.5 L677.6,919.8 L679.3,920.3 L681.1,921 L682.8,921.9 L684.6,923 L686.4,924.2 L688.1,925.7 L689.9,927.3 L691.6,929.1 L693.3,931 L694.9,933 L696.4,935.2 L697.9,937.5 L699.3,939.9 L700.6,942.3 L701.8,944.8 L702.9,947.4 L703.9,950 L704.8,952.6 L705.5,955.2 L706.1,957.8 L706.6,960.3 L706.9,962.8 L707.2,965.3 L707.2,967.7 L707.2,969.9 L706.9,972.1 L706.6,974.2 L706.1,976.1 L705.5,977.9 L704.8,979.5 L703.9,980.9 L702.9,982.2 L701.8,983.3 L700.6,984.2 L679.3,998.2" fill="none"/>
<path d="M542.8,980.4 L621.4,929.9 L623.2,928.9 L625.2,928.2 L627.3,927.9 L629.5,927.8 L631.8,928 L634.2,928.5 L636.6,929.4 L639.1,930.5 L641.7,931.9 L644.3,933.6 L646.9,935.5 L649.4,937.7 L652,940.2 L654.5,942.9 L657,945.8 L659.4,948.8 L661.7,952.1 L663.9,955.5 L666,959 L667.9,962.7 L669.8,966.4 L671.5,970.2 L673,974.1 L674.4,978 L675.5,981.8 L676.5,985.6 L677.3,989.4 L677.9,993.1 L678.4,996.7 L678.6,1000.2 L678.6,1003.5 L678.4,1006.7 L678,1009.7 L677.4,1012.5 L676.6,1015 L675.6,1017.4 L674.4,1019.5 L673.1,1021.3 L671.6,1022.8 L669.9,1024.1 L566.5,1090.6 Z" fill="#fff" stroke="none"/>
<path d="M542.8,980.4 L621.4,929.9 L623.2,928.9 L625.2,928.2 L627.3,927.9 L629.5,927.8 L631.8,928 L634.2,928.5 L636.6,929.4 L639.1,930.5 L641.7,931.9 L644.3,933.6 L646.9,935.5 L649.4,937.7 L652,940.2 L654.5,942.9 L657,945.8 L659.4,948.8 L661.7,952.1 L663.9,955.5 L666,959 L667.9,962.7 L669.8,966.4 L671.5,970.2 L673,974.1 L674.4,978 L675.5,981.8 L676.5,985.6 L677.3,989.4 L677.9,993.1 L678.4,996.7 L678.6,1000.2 L678.6,1003.5 L678.4,1006.7 L678,1009.7 L677.4,1012.5 L676.6,1015 L675.6,1017.4 L674.4,1019.5 L673.1,1021.3 L671.6,1022.8 L669.9,1024.1 L566.5,1090.6" fill="none"/>
<path d="M664,966.2 L691.9,948.3" fill="none"/>
<path d="M627.3,989.2 L635,984.5" fill="none"/>
<path d="M803,916.6 L804.5,915.5 L805.9,914.1 L807.1,912.5 L808,910.5 L808.8,908.4 L809.4,906.1 L809.8,903.5 L810,900.8 L809.9,898 L809.7,895.1 L809.2,892.1 L808.6,889 L807.7,885.9 L806.7,882.9 L805.4,879.8 L804,876.9 L802.5,874 L800.8,871.3 L799,868.7 L797.1,866.2 L795,864 L793,862 L790.8,860.3 L788.7,858.8 L786.5,857.5 L784.4,856.6 L782.3,855.9 L780.2,855.6 L778.3,855.5 L776.4,855.8 L774.6,856.3 L773,857.2 L736.2,880.2 L734.7,881.3 L733.4,882.7 L732.2,884.3 L731.2,886.3 L730.4,888.4 L729.8,890.7 L729.4,893.3 L729.3,896 L729.3,898.8 L729.6,901.7 L730,904.7 L730.7,907.8 L731.5,910.9 L732.6,913.9 L733.8,917 L735.2,919.9 L736.8,922.8 L738.5,925.5 L740.3,928.1 L742.2,930.6 L744.2,932.8 L746.3,934.8 L748.4,936.5 L750.6,938 L752.7,939.3 L754.9,940.2 L757,940.9 L759,941.2 L761,941.3 L762.9,941 L764.7,940.5 L766.3,939.6 Z" fill="#fff"/>
<ellipse cx="751.2" cy="909.9" rx="18.8" ry="33.4" transform="rotate(-24.4 751.2 909.9)" fill="#fff"/>
<ellipse cx="779.1" cy="864.2" rx="2.6" ry="3.0" transform="rotate(-20 779.1 864.2)"/>
<ellipse cx="763.9" cy="878.6" rx="2.4" ry="3.3" transform="rotate(-60 763.9 878.6)"/>
<ellipse cx="781.3" cy="879.9" rx="2.6" ry="3.0" transform="rotate(30 781.3 879.9)"/>
<ellipse cx="792.4" cy="876.2" rx="2.2" ry="3.6" transform="rotate(15 792.4 876.2)"/>
<ellipse cx="773.9" cy="899" rx="2.7" ry="3.0" transform="rotate(-20 773.9 899)"/>
<ellipse cx="801.9" cy="902.7" rx="2.2" ry="3.2" transform="rotate(10 801.9 902.7)"/>
<ellipse cx="787.3" cy="915.3" rx="2.3" ry="3.3" transform="rotate(15 787.3 915.3)"/>
<ellipse cx="787.3" cy="893.8" rx="0.9" ry="2.4" transform="rotate(10 787.3 893.8)" fill="#000"/>
<path d="M935,739.4 L845.2,797.1 L888.1,876.5 L1006.9,800.8" fill="#fff" stroke="none"/>
<path d="M935,739.4 L845.2,797.1" fill="none"/>
<path d="M1006.9,800.8 L888.1,876.5" fill="none"/>
<ellipse cx="863" cy="839" rx="25" ry="45.7" transform="rotate(-25 863 839)" fill="#fff"/>
<ellipse cx="863.5" cy="838.5" rx="18.2" ry="33.3" transform="rotate(-25 863.5 838.5)" fill="none"/>
<path d="M879,868.5 L880.4,867.4 L881.7,866 L882.9,864.3 L883.8,862.4 L884.6,860.2 L885.1,857.9 L885.5,855.3 L885.6,852.6 L885.5,849.8 L885.2,846.8 L884.7,843.8 L884,840.7 L883.1,837.6 L882,834.5 L880.7,831.4 L879.3,828.5 L877.7,825.6 L876,822.8 L874.1,820.2 L872.2,817.7 L870.1,815.5 L868,813.5 L865.9,811.7 L863.7,810.2 L861.6,808.9 L859.4,808 L857.3,807.3 L855.3,807 L853.3,806.9 L851.4,807.1 L849.7,807.7 L848,808.5 L817.1,828.2 L815.6,829.3 L814.3,830.7 L813.2,832.4 L812.2,834.3 L811.5,836.5 L810.9,838.8 L810.6,841.4 L810.5,844.1 L810.5,846.9 L810.8,849.9 L811.3,852.9 L812.1,856 L813,859.1 L814.1,862.2 L815.3,865.3 L816.8,868.2 L818.4,871.1 L820.1,873.9 L821.9,876.5 L823.9,879 L825.9,881.2 L828,883.2 L830.2,885 L832.3,886.5 L834.5,887.8 L836.6,888.7 L838.7,889.4 L840.8,889.7 L842.8,889.8 L844.6,889.6 L846.4,889 L848,888.2 Z" fill="#fff"/>
<ellipse cx="832.5" cy="858.2" rx="18.6" ry="33.8" transform="rotate(-25 832.5 858.2)" fill="#fff"/>
<path d="M721.9,928.9 L862.9,839.1" fill="none"/>
<path d="M862.8,737.1 L842,750.3" fill="none"/>
<path d="M821.2,763.4 L839.9,746.3 L844.2,754.8 Z" fill="#000" stroke="#000" stroke-width="0.3"/>
<path d="M818.5,752.8 L837.9,790.6" fill="none"/>
<path d="M749.1,809.9 L770,796.6" fill="none"/>
<path d="M790.4,783.5 L767.7,792.8 L772.8,801.4 Z" fill="#000" stroke="#000" stroke-width="0.3"/>
<path d="M786.2,773.4 L805.8,810.8" fill="none"/>
<circle cx="809.8" cy="819.2" r="0.7" fill="#000" stroke="none"/>
<path d="M724.1,830.6 L748.4,830.6 L807,840.5" fill="none"/>
<path d="M832.2,844.7 L807.6,836 L806.4,844.9 Z" fill="#000" stroke="#000" stroke-width="0.3"/>
<path d="M949.8,911.3 L935.5,876" fill="none"/>
<path d="M926.6,852.5 L930.7,878.4 L940.7,874.2 Z" fill="#000" stroke="#000" stroke-width="0.3"/>
<path d="M810.5,942.5 L833,967.8 L849.8,967.8" fill="none"/>
<path d="M794.8,924.6 L806.2,945.5 L815.1,938.6 Z" fill="#000" stroke="#000" stroke-width="0.3"/>
<path d="M747,992 L770.8,1013.3 L792.7,1013.3" fill="none"/>
<path d="M729.9,976.2 L742.7,995.6 L751.2,988.4 Z" fill="#000" stroke="#000" stroke-width="0.3"/>
</g>
</svg>
</body></html>
